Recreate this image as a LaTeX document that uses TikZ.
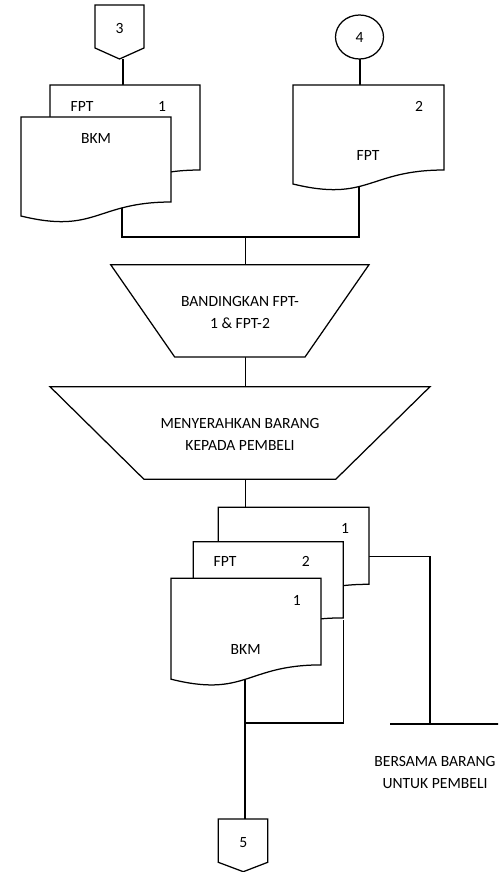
\documentclass[tikz,border=0pt]{standalone}
\usepackage{fontspec}
\setmainfont{Carlito}
\begin{document}
\begin{tikzpicture}[x=1pt,y=-1pt,line width=1.25pt,line join=miter,
  lbl/.style={font=\fontsize{15.6}{22}\selectfont,inner sep=0pt,align=center},
  solid shape/.style={draw=black,fill=white},
  pics/docu/.style 2 args={code={
    \path[solid shape] (0,0) -- (#1,0) -- (#1,0.802*#2)
      .. controls (0.5*#1,0.802*#2) and (0.5*#1,1.1075*#2) .. (0,0.934*#2) -- cycle;
  }}]
\useasboundingbox (0,0) rectangle (498,872);
\clip (0,0) rectangle (498,872);

% ---------- connection points ----------
\coordinate (c3bot) at (123,59);
\coordinate (d1top) at (123,85);
\coordinate (c4bot) at (360,59);
\coordinate (d2top) at (360,85);
\coordinate (bkmA) at (122,200);
\coordinate (jA) at (122,237);
\coordinate (fptB) at (359,180);
\coordinate (jB) at (359,237);
\coordinate (jM) at (245.5,237);
\coordinate (t1top) at (245.5,264.7);
\coordinate (t1bot) at (245.5,357);
\coordinate (t2top) at (245.5,386.7);
\coordinate (t2bot) at (245.5,479.3);
\coordinate (e1top) at (245.5,507.3);
\coordinate (e1side) at (369,556.7);
\coordinate (rc) at (430,556.7);
\coordinate (rd) at (430,724);
\coordinate (hL) at (390,724);
\coordinate (hR) at (505,724);
\coordinate (e2side) at (343.3,620);
\coordinate (e2low) at (343.3,723);
\coordinate (e3in) at (245,670);
\coordinate (e3low) at (245,723);
\coordinate (c5top) at (245,819);

% ---------- connectors ----------
\draw (c3bot) -- (d1top);
\draw (c4bot) -- (d2top);
\draw (bkmA) -- (jA) -- (jB) -- (fptB);
\draw (jM) -- (t1top);
\draw (t1bot) -- (t2top);
\draw (t2bot) -- (e1top);
\draw (e1side) -- (rc) -- (rd);
\draw (hL) -- (hR);
\draw (e2side) -- (e2low) -- (e3low);
\draw (e3in) -- (c5top);

% ---------- off-page connector 3 ----------
\path[solid shape] (95,5) -- (144,5) -- (144,48) -- (119.5,59) -- (95,48) -- cycle;
\node[lbl] (n3) at (119.5,28) {3};

% ---------- on-page connector 4 ----------
\path[solid shape] (359.5,37) ellipse [x radius=24,y radius=22];
\node[lbl] (n4) at (359.5,37) {4};

% ---------- FPT 1 / BKM pair ----------
\pic at (50,85) {docu={150}{106}};
\node[lbl] (fpt1a) at (82,106) {FPT};
\node[lbl] (fpt1b) at (162,106) {1};
\pic at (21,117) {docu={150}{106}};
\node[lbl] (bkm1) at (96,138) {BKM};

% ---------- FPT 2 ----------
\pic at (293,85) {docu={151}{106}};
\node[lbl] (fpt2a) at (419,106) {2};
\node[lbl] (fpt2b) at (368,155) {FPT};

% ---------- manual operations ----------
\path[solid shape] (110.7,264.7) -- (369,264.7) -- (305,357) -- (174.7,357) -- cycle;
\node[lbl] (cmp) at (240,312.5) {BANDINGKAN FPT-\\1 \& FPT-2};
\path[solid shape] (50,386.7) -- (430,386.7) -- (335.7,479.3) -- (144,479.3) -- cycle;
\node[lbl] (hand) at (240,434.7) {MENYERAHKAN BARANG\\KEPADA PEMBELI};

% ---------- stacked output documents ----------
\pic at (218.3,507.3) {docu={150.7}{96}};
\node[lbl] (o1) at (345,528) {1};
\pic at (193.3,541.7) {docu={150}{95}};
\node[lbl] (o2a) at (225,561.7) {FPT};
\node[lbl] (o2b) at (305.7,561.7) {2};
\pic at (171,578.3) {docu={150}{108}};
\node[lbl] (o3a) at (296.7,600) {1};
\node[lbl] (o3b) at (245.7,649.3) {BKM};

% ---------- destination note ----------
\node[lbl] (note) at (435,772.5) {BERSAMA BARANG\\UNTUK PEMBELI};

% ---------- off-page connector 5 ----------
\path[solid shape] (218.3,819) -- (267.7,819) -- (267.7,862.3) -- (243.3,871.7) -- (218.3,862.3) -- cycle;
\node[lbl] (n5) at (243.3,842.7) {5};
\end{tikzpicture}
\end{document}
